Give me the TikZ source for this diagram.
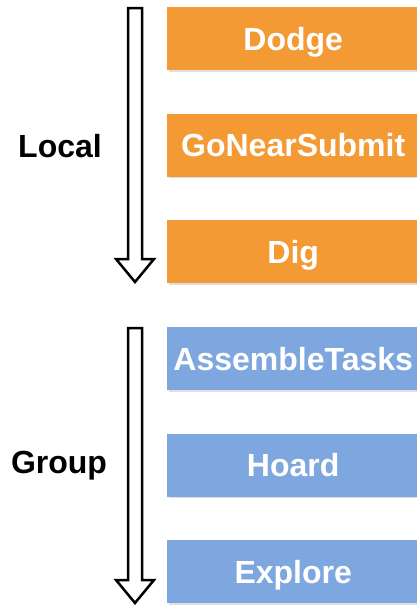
\documentclass[tikz,border=0pt]{standalone}
\usepackage{fontspec}
\setmainfont{Liberation Sans}
\usetikzlibrary{shadows}
\definecolor{orangebox}{HTML}{F39A35}
\definecolor{bluebox}{HTML}{7EA7E0}
\begin{document}
\begin{tikzpicture}[x=1pt,y=-1pt,
  boxstyle/.style={rectangle,minimum width=252pt,minimum height=63pt,inner sep=0pt,anchor=west,
    text=white,font=\fontsize{32}{32}\selectfont\bfseries,text depth=0pt,
    drop shadow={shadow xshift=1.5pt,shadow yshift=-1.5pt,opacity=0.25}},
  lbl/.style={font=\fontsize{32}{32}\selectfont\bfseries,text=black},
  arrowstyle/.style={draw=black,line width=2.5pt,fill=white,line join=miter}]
\useasboundingbox (0,0) rectangle (417,605);
\node[boxstyle,fill=orangebox] (dodge) at (167,38.5) {Dodge};
\node[boxstyle,fill=orangebox] (gonear) at (167,145) {GoNearSubmit};
\node[boxstyle,fill=orangebox] (dig) at (167,251.5) {Dig};
\node[boxstyle,fill=bluebox] (assemble) at (167,358.5) {AssembleTasks};
\node[boxstyle,fill=bluebox] (hoard) at (167,465) {Hoard};
\node[boxstyle,fill=bluebox] (explore) at (167,571.5) {Explore};
\node[lbl] (local) at (60,146) {Local};
\node[lbl] (group) at (59,466) {Group};
% arrows
\draw[arrowstyle] (128,8) -- (142,8) -- (142,259) -- (154,259) -- (135,282) -- (116,259) -- (128,259) -- cycle;
\draw[arrowstyle] (128,328) -- (142,328) -- (142,580) -- (154,580) -- (135,603) -- (116,580) -- (128,580) -- cycle;
\end{tikzpicture}
\end{document}
